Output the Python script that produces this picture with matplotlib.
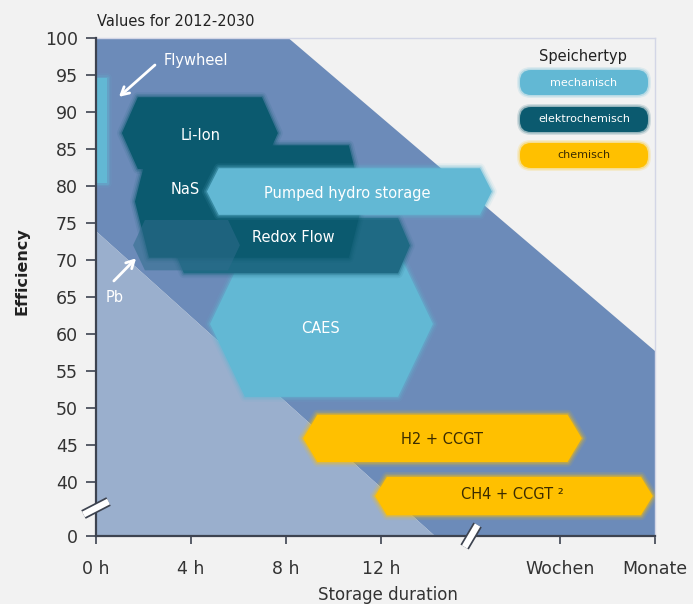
import matplotlib
matplotlib.use("Agg")
import matplotlib.pyplot as plt
from matplotlib.patches import Polygon, FancyBboxPatch
import matplotlib.patheffects as pe

plt.rcParams['font.family'] = ['DejaVu Sans']

# ---------------- data ----------------
x_tick_pos = [0, 4, 8, 12, 19.54, 23.54]
x_tick_labels = ['0 h', '4 h', '8 h', '12 h', 'Wochen', 'Monate']
y_tick_pos = [32.7, 40, 45, 50, 55, 60, 65, 70, 75, 80, 85, 90, 95, 100]
y_tick_labels = ['0', '40', '45', '50', '55', '60', '65', '70', '75', '80', '85', '90', '95', '100']

# background bands (diagonal boundaries)
upper_line_x = [8.1, 23.54]
upper_line_y = [100, 57.7]
lower_line_x = [0, 14.27]
lower_line_y = [73.9, 32.7]

techs    = ['CAES', 'Redox Flow', 'Li-Ion', 'NaS', 'Pb', 'Pumped hydro storage',
            'Flywheel', 'H2 + CCGT', 'CH4 + CCGT']
dur_min  = [4.80, 3.20, 1.09, 1.64, 1.56, 4.67, 0.04, 8.72, 11.75]
dur_max  = [14.19, 13.22, 7.66, 11.24, 6.06, 16.67, 0.46, 20.46, 23.45]
eff_min  = [51.5, 68.2, 82.3, 70.3, 68.6, 76.1, 80.4, 42.7, 35.5]
eff_max  = [71.2, 75.7, 92.0, 85.5, 75.4, 82.4, 94.6, 49.1, 40.7]
kind     = ['mech', 'redox', 'elec', 'elec', 'pb', 'mech', 'mech', 'chem', 'chem']
insets   = [1.47, 0.5, 0.67, 0.59, 0.5, 0.5, 0.0, 0.6, 0.5]

label_text = ['CAES', 'Redox Flow', 'Li-Ion', 'NaS', '', 'Pumped hydro storage',
              '', 'H2 + CCGT', 'CH4 + CCGT ²']
label_x = [9.47, 8.33, 4.42, 3.75, 0, 10.57, 0, 14.57, 17.55]
label_y = [60.8, 73.1, 86.8, 79.5, 0, 79.0, 0, 45.8, 38.3]

legend_labels = ['mechanisch', 'elektrochemisch', 'chemisch']

# ---------------- styles ----------------
C_BG = '#f2f2f2'
C_LIGHT = '#9aafcd'
C_BAND = '#6c8bb9'
colors = {'mech': '#62b8d4', 'elec': '#0b5a6f', 'redox': '#1f6a84',
          'pb': '#2f6c8c', 'chem': '#ffc000'}
alphas = {'mech': 1.0, 'elec': 1.0, 'redox': 1.0, 'pb': 0.55, 'chem': 1.0}
text_col = {'mech': 'white', 'elec': 'white', 'redox': 'white', 'pb': 'white',
            'chem': '#3b2c00'}

W, H = 693, 604
fig = plt.figure(figsize=(W / 100, H / 100), dpi=100, facecolor=C_BG)
ax = fig.add_axes([96 / W, 1 - 536 / H, (655 - 96) / W, (536 - 38) / H])
ax.set_facecolor(C_BG)
ax.set_xlim(0, 23.54)
ax.set_ylim(32.7, 100)

# background
x0, x1 = ax.get_xlim()
y0, y1 = ax.get_ylim()
band = Polygon([(x0, lower_line_y[0]), (x0, y1), (upper_line_x[0], upper_line_y[0]),
                (upper_line_x[1], upper_line_y[1]), (x1, y0), (lower_line_x[1], lower_line_y[1])],
               closed=True, facecolor=C_BAND, edgecolor='none', zorder=0)
ax.add_patch(band)
light = Polygon([(x0, y0), (lower_line_x[0], lower_line_y[0]), (lower_line_x[1], lower_line_y[1])],
                closed=True, facecolor=C_LIGHT, edgecolor='none', zorder=0.5)
ax.add_patch(light)


def hexagon(a, b, lo, hi, ins):
    ym = (lo + hi) / 2
    if ins == 0:
        return [(a, lo), (a, hi), (b, hi), (b, lo)]
    return [(a, ym), (a + ins, hi), (b - ins, hi), (b, ym), (b - ins, lo), (a + ins, lo)]


z = 2
for t, a, b, lo, hi, k, ins in zip(techs, dur_min, dur_max, eff_min, eff_max, kind, insets):
    pts = hexagon(a, b, lo, hi, ins)
    c = colors[k]
    am = alphas[k]
    if am >= 1.0:
        for lw, al in [(7, 0.10), (4.5, 0.18), (2.2, 0.35)]:
            ax.add_patch(Polygon(pts, closed=True, facecolor='none', edgecolor=c,
                                 linewidth=lw, alpha=al, joinstyle='round', zorder=z))
    ax.add_patch(Polygon(pts, closed=True, facecolor=c, edgecolor='none', alpha=am,
                         zorder=z + 0.1))
    z += 1

for t, lx, ly, k in zip(label_text, label_x, label_y, kind):
    if t:
        ax.text(lx, ly, t, ha='center', va='center', fontsize=10.5,
                color=text_col[k], zorder=50)

# annotations
ax.annotate('', xy=(0.88, 91.8), xytext=(2.57, 96.6),
            arrowprops=dict(arrowstyle='->,head_length=0.55,head_width=0.3', color='white', lw=2),
            zorder=60)
ax.text(2.86, 97.0, 'Flywheel', ha='left', va='center', fontsize=10.5, color='white', zorder=60)
ax.annotate('', xy=(1.77, 70.5), xytext=(0.67, 66.9),
            arrowprops=dict(arrowstyle='->,head_length=0.55,head_width=0.3', color='white', lw=2),
            zorder=60)
ax.text(0.8, 64.9, 'Pb', ha='center', va='center', fontsize=10.5, color='white', zorder=60)

# axes styling
for s in ['top', 'right']:
    ax.spines[s].set_color('#d3d6e6')
    ax.spines[s].set_linewidth(1)
for s in ['left', 'bottom']:
    ax.spines[s].set_color('#3d4350')
    ax.spines[s].set_linewidth(1.6)
    ax.spines[s].set_zorder(70)

ax.set_xticks(x_tick_pos)
ax.set_xticklabels(x_tick_labels)
ax.set_yticks(y_tick_pos)
ax.set_yticklabels(y_tick_labels)
ax.tick_params(axis='y', length=7, width=1.2, color='#3d4350', pad=6,
               labelsize=12.5, labelcolor='#333333')
ax.tick_params(axis='x', length=6, width=1.2, color='#3d4350', pad=11,
               labelsize=12.5, labelcolor='#333333')

# axis breaks
for (cx, cy, dx, dy) in [(0.0, 0.0562, 0.0224, 0.013), (0.671, 0.0, 0.0116, 0.0221)]:
    ax.plot([cx - dx, cx + dx], [cy - dy, cy + dy], transform=ax.transAxes, color='white',
            lw=4.5, solid_capstyle='butt', clip_on=False, zorder=80,
            path_effects=[pe.Stroke(linewidth=7, foreground='#3d4350'), pe.Normal()])

# titles / labels
fig.text(97 / W, 1 - 22 / H, 'Values for 2012-2030', ha='left', va='center',
         fontsize=10.5, color='#222222')
fig.text(22 / W, 1 - 271 / H, 'Efficiency', rotation=90, ha='center', va='center',
         fontsize=11.5, fontweight='bold', color='#222222')
fig.text(388 / W, 1 - 595 / H, 'Storage duration', ha='center', va='center',
         fontsize=12, color='#333333')

# legend
fig.text(583 / W, 1 - 57 / H, 'Speichertyp', ha='center', va='center',
         fontsize=10.5, color='#222222')
leg_keys = ['mech', 'elec', 'chem']
leg_top = [70, 107, 143]
for lab, k, top in zip(legend_labels, leg_keys, leg_top):
    hgt = 25
    for grow, al in [(3, 0.15), (1.5, 0.3), (0, 1.0)]:
        p = FancyBboxPatch(((520 - grow) / W, 1 - (top + hgt + grow) / H),
                           (128 + 2 * grow) / W, (hgt + 2 * grow) / H,
                           boxstyle='round,pad=0,rounding_size=%f' % ((11 + grow) / W),
                           mutation_aspect=W / H, transform=fig.transFigure,
                           facecolor=colors[k], edgecolor='none', alpha=al, zorder=90)
        fig.patches.append(p)
    fig.text(584 / W, 1 - (top + hgt / 2) / H, lab, ha='center', va='center',
             fontsize=8, color=text_col[k], zorder=95)

fig.savefig('out.png', dpi=100, facecolor=C_BG)
